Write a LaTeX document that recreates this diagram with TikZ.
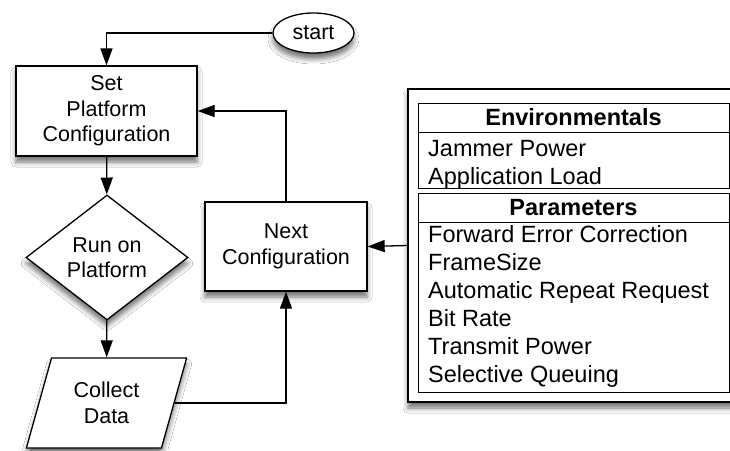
\documentclass[tikz,border=0pt]{standalone}
\usepackage{fontspec}
\setmainfont{Liberation Sans}
\usetikzlibrary{shapes.geometric}
\usetikzlibrary{arrows.meta}
\usetikzlibrary{shadows.blur}

\newcommand{\flowfont}{\fontsize{21.5}{25.5}\selectfont}
\newcommand{\listfont}{\fontsize{23.5}{25}\selectfont}

\begin{document}
\begin{tikzpicture}[x=1pt,y=-1pt,
    flowbox/.style={draw=black,line width=1.3pt,fill=white,align=center,font=\flowfont,inner sep=0pt,
      blur shadow={shadow xshift=0pt,shadow yshift=-6pt,shadow blur radius=5pt,shadow opacity=55}},
    flowline/.style={line width=1.3pt,-{Triangle[length=17pt,width=12pt]}},
    listbox/.style={shape=rectangle,draw=black,line width=1pt,inner sep=0pt},
    item/.style={anchor=base west,inner sep=0pt,font=\listfont}]
      \useasboundingbox (0,0) rectangle (730,450);
      \fill[white] (0,0) rectangle (730,450);
      % flow chart
      \node[flowbox,shape=ellipse,minimum width=81pt,minimum height=40pt] (start) at (313.5,33) {start};
      \node[flowbox,shape=rectangle,minimum width=181pt,minimum height=90pt] (setcfg) at (106.5,111) {Set\\Platform\\Configuration};
      \node[flowbox,shape=diamond,aspect=1.3,minimum width=162pt,minimum height=125pt] (run) at (107,257.5) {Run on\\Platform};
      \node[flowbox,shape=trapezium,trapezium left angle=70,trapezium right angle=110,trapezium stretches=true,
        minimum width=161pt,minimum height=90pt] (collect) at (106.5,403) {Collect\\Data};
      \node[flowbox,shape=rectangle,minimum width=162pt,minimum height=89pt] (nextcfg) at (286,246.5) {Next\\Configuration};
      \draw[flowline] (start.west) -| (setcfg.north);
      \draw[flowline] (setcfg) -- (run);
      \draw[flowline] (run) -- (collect);
      \draw[flowline] (collect.east) -| (nextcfg.south);
      \draw[flowline] (nextcfg.north) |- (setcfg.east);
      % variables panel
      \node[flowbox,shape=rectangle,minimum width=336pt,minimum height=313pt] (panel) at (576,245.5) {};
      \node[listbox,minimum width=311pt,minimum height=29pt,font=\listfont\bfseries] (envhead) at (573.5,117.5) {Environmentals};
      \node[listbox,minimum width=311pt,minimum height=56pt] (envlist) at (573.5,160) {};
      \node[listbox,minimum width=311pt,minimum height=29pt,font=\listfont\bfseries] (parhead) at (573.5,207.5) {Parameters};
      \node[listbox,minimum width=311pt,minimum height=170pt] (parlist) at (573.5,307) {};
      \node[item] (jammer) at (428,156) {Jammer Power};
      \node[item] (appload) at (428,184) {Application Load};
      \node[item] (fec) at (428,242) {Forward Error Correction};
      \node[item] (frame) at (428,270) {FrameSize};
      \node[item] (arq) at (428,298) {Automatic Repeat Request};
      \node[item] (bitrate) at (428,326) {Bit Rate};
      \node[item] (txpower) at (428,354) {Transmit Power};
      \node[item] (queue) at (428,382) {Selective Queuing};
      \draw[flowline] (panel.west) -- (nextcfg.east);
\end{tikzpicture}
\end{document}
